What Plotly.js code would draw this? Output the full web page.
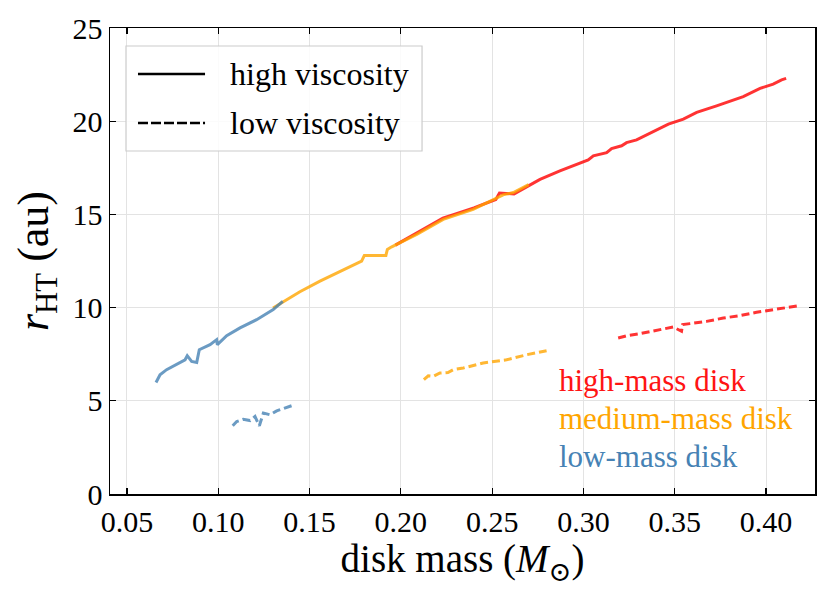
<!DOCTYPE html>
<html>
<head>
<meta charset="utf-8">
<script src="https://cdn.plot.ly/plotly-3.0.1.min.js"></script>
<style>
  html, body { margin: 0; padding: 0; background: white; }
  #chart { width: 830px; height: 593px; }
</style>
</head>
<body>
<div id="chart"></div>
<script>
// disk mass (Msun) vs r_HT (au)
let lowSolidX = [0.0659, 0.0681, 0.0717, 0.0772, 0.0818, 0.0830, 0.0854, 0.0882, 0.0896, 0.0955, 0.0991, 0.0995, 0.1046, 0.1119, 0.1210, 0.1301, 0.1353];
let lowSolidY = [5.98, 6.40, 6.67, 6.94, 7.20, 7.42, 7.11, 7.06, 7.74, 8.01, 8.28, 8.01, 8.49, 8.91, 9.35, 9.89, 10.34];

let lowDashX = [0.1079, 0.1101, 0.1137, 0.1174, 0.1201, 0.1225, 0.1247, 0.1283, 0.1320, 0.1365, 0.1415];
let lowDashY = [3.66, 3.89, 4.01, 3.94, 4.16, 3.66, 4.34, 4.25, 4.46, 4.61, 4.78];

let medSolidX = [0.1300, 0.1375, 0.1447, 0.1557, 0.1666, 0.1785, 0.1800, 0.1918, 0.1926, 0.1950, 0.2087, 0.2232, 0.2396, 0.2543, 0.2560, 0.2616, 0.2700];
let medSolidY = [9.98, 10.43, 10.85, 11.42, 11.95, 12.49, 12.80, 12.80, 13.12, 13.26, 13.93, 14.73, 15.27, 15.99, 16.05, 16.17, 16.60];

let medDashX = [0.2126, 0.2150, 0.2178, 0.2214, 0.2258, 0.2287, 0.2342, 0.2451, 0.2579, 0.2689, 0.2798];
let medDashY = [6.13, 6.34, 6.31, 6.49, 6.52, 6.67, 6.76, 7.03, 7.20, 7.47, 7.69];

let highSolidX = [0.197, 0.209, 0.223, 0.240, 0.252, 0.254, 0.262, 0.2762, 0.2871, 0.3026, 0.3054, 0.3127, 0.3154, 0.3209, 0.3236, 0.3291, 0.340, 0.3465, 0.3547, 0.362, 0.3729, 0.3802, 0.3875, 0.3967, 0.4039, 0.4085, 0.411];
let highSolidY = [13.35, 14.0, 14.8, 15.35, 15.8, 16.15, 16.1, 16.88, 17.33, 17.92, 18.14, 18.31, 18.53, 18.68, 18.85, 19.0, 19.53, 19.84, 20.11, 20.47, 20.82, 21.09, 21.32, 21.76, 21.99, 22.22, 22.3];

let highDashX = [0.3190, 0.3236, 0.3309, 0.3400, 0.3492, 0.3537, 0.3543, 0.3583, 0.3674, 0.3766, 0.3857, 0.3948, 0.4040, 0.4113, 0.4186];
let highDashY = [8.37, 8.49, 8.60, 8.78, 8.96, 8.73, 9.09, 9.14, 9.26, 9.44, 9.57, 9.75, 9.89, 9.98, 10.11];

let xTicks = [0.05, 0.10, 0.15, 0.20, 0.25, 0.30, 0.35, 0.40];
let xTickText = ["0.05", "0.10", "0.15", "0.20", "0.25", "0.30", "0.35", "0.40"];
let yTicks = [0, 5, 10, 15, 20, 25];

let serif = "Liberation Serif, DejaVu Serif, serif";
let red = "rgba(255,0,0,0.8)";
let orange = "rgba(255,165,0,0.8)";
let blue = "rgba(70,130,180,0.8)";
let dash = "8px,4px";

function line(x, y, color, dashed) {
    return {
        type: "scatter", mode: "lines",
        x: x, y: y,
        line: { color: color, width: 3, dash: dashed ? dash : "solid" },
        showlegend: false, hoverinfo: "skip"
    };
}

// red under orange under blue, like in the picture
let data = [
    line(highSolidX, highSolidY, red, false),
    line(highDashX, highDashY, red, true),
    line(medSolidX, medSolidY, orange, false),
    line(medDashX, medDashY, orange, true),
    line(lowSolidX, lowSolidY, blue, false),
    line(lowDashX, lowDashY, blue, true)
];

let axisBase = {
    showline: true, linecolor: "black", linewidth: 1.5, mirror: "allticks",
    ticks: "inside", ticklen: 6, tickwidth: 1.2, tickcolor: "black",
    showgrid: true, gridcolor: "#e3e3e3", gridwidth: 1,
    zeroline: false,
    tickfont: { family: serif, size: 30, color: "black" }
};

let layout = {
    width: 830, height: 593,
    margin: { l: 110, r: 15, t: 28, b: 99 },
    paper_bgcolor: "white", plot_bgcolor: "white",
    xaxis: Object.assign({}, axisBase, {
        range: [0.0407, 0.4268],
        tickvals: xTicks, ticktext: xTickText,
        title: { text: "disk mass (<i>M</i><sub>⊙</sub>)", font: { family: serif, size: 39, color: "black" }, standoff: 6 }
    }),
    yaxis: Object.assign({}, axisBase, {
        range: [0, 25],
        tickvals: yTicks,
        title: { text: "<i>r</i><sub>HT</sub> (au)", font: { family: serif, size: 44, color: "black" }, standoff: 10 }
    }),
    shapes: [
        // legend box
        { type: "rect", xref: "paper", yref: "paper", x0: 0.0227, x1: 0.4426, y0: 0.736, y1: 0.9614,
          line: { color: "#cccccc", width: 1.2 }, fillcolor: "rgba(255,255,255,0.85)", layer: "above" },
        { type: "line", xref: "paper", yref: "paper", x0: 0.0397, x1: 0.1348, y0: 0.9013, y1: 0.9013,
          line: { color: "black", width: 2.5 }, layer: "above" },
        { type: "line", xref: "paper", yref: "paper", x0: 0.0397, x1: 0.1348, y0: 0.796, y1: 0.796,
          line: { color: "black", width: 2.5, dash: "10px,3px" }, layer: "above" }
    ],
    annotations: [
        { xref: "paper", yref: "paper", x: 0.168, y: 0.9013, xanchor: "left", yanchor: "middle", showarrow: false,
          text: "high viscosity", font: { family: serif, size: 32, color: "black" } },
        { xref: "paper", yref: "paper", x: 0.168, y: 0.796, xanchor: "left", yanchor: "middle", showarrow: false,
          text: "low viscosity", font: { family: serif, size: 32, color: "black" } },
        { xref: "paper", yref: "paper", x: 0.634, y: 0.2425, xanchor: "left", yanchor: "middle", showarrow: false,
          text: "high-mass disk", font: { family: serif, size: 31, color: "rgb(255,20,20)" } },
        { xref: "paper", yref: "paper", x: 0.634, y: 0.163, xanchor: "left", yanchor: "middle", showarrow: false,
          text: "medium-mass disk", font: { family: serif, size: 31, color: "orange" } },
        { xref: "paper", yref: "paper", x: 0.634, y: 0.0815, xanchor: "left", yanchor: "middle", showarrow: false,
          text: "low-mass disk", font: { family: serif, size: 31, color: "steelblue" } }
    ]
};

Plotly.newPlot("chart", data, layout, { staticPlot: true });
</script>
</body>
</html>
